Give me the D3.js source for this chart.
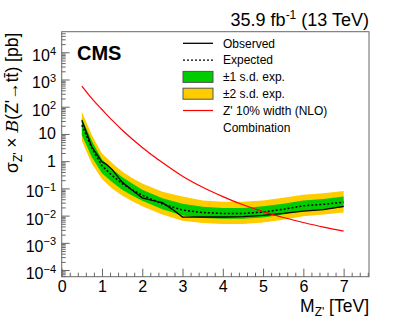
<!DOCTYPE html>
<html>
<head>
<meta charset="utf-8">
<script src="https://cdn.jsdelivr.net/npm/d3@7"></script>
<style>
  body { margin: 0; background: #fff; }
  svg { font-family: "Liberation Sans", Arial, sans-serif; }
</style>
</head>
<body>
<svg id="chart" width="411" height="326"></svg>
<script>
// masses in TeV
var massExp = [0.5, 0.75, 1, 1.25, 1.5, 1.75, 2, 2.5, 3, 3.5, 4, 4.5, 5, 5.5, 6, 6.5, 7];
var expected = [21, 3.0, 0.68, 0.3, 0.15, 0.09, 0.056, 0.027, 0.016, 0.013, 0.012, 0.012, 0.0135, 0.017, 0.023, 0.026, 0.031];
var sd1Low = [9, 1.4, 0.36, 0.17, 0.09, 0.055, 0.035, 0.017, 0.010, 0.0082, 0.0077, 0.0077, 0.0086, 0.011, 0.015, 0.017, 0.020];
var sd1High = [37, 5.5, 1.15, 0.52, 0.26, 0.15, 0.09, 0.043, 0.027, 0.021, 0.019, 0.019, 0.022, 0.027, 0.036, 0.041, 0.050];
var sd2Low = [5.5, 0.8, 0.22, 0.1, 0.055, 0.034, 0.022, 0.011, 0.0065, 0.0053, 0.0049, 0.0049, 0.0056, 0.0071, 0.0095, 0.011, 0.013];
var sd2High = [65, 9, 1.9, 0.85, 0.42, 0.24, 0.15, 0.075, 0.05, 0.036, 0.032, 0.032, 0.036, 0.045, 0.058, 0.066, 0.080];

var massObs = [0.5, 0.75, 1, 1.1, 1.25, 1.5, 1.75, 2, 2.25, 2.5, 2.75, 3, 3.5, 4, 4.5, 5, 5.5, 6, 6.5, 7];
var observed = [32, 3.3, 0.95, 0.78, 0.5, 0.17, 0.085, 0.045, 0.036, 0.03, 0.017, 0.0088, 0.0089, 0.0089, 0.0092, 0.0102, 0.012, 0.0147, 0.0165, 0.022];

var massTh = [0.5, 0.75, 1, 1.25, 1.5, 2, 2.5, 3, 3.5, 4, 4.5, 5, 5.5, 6, 6.5, 7];
var theory = [575, 200, 79, 32, 14, 3.2, 0.89, 0.28, 0.11, 0.05, 0.025, 0.014, 0.0085, 0.0056, 0.0038, 0.0027];

var xTicks = [0, 1, 2, 3, 4, 5, 6, 7];
var yDecades = [-4, -3, -2, -1, 0, 1, 2, 3, 4];

var svg = d3.select("#chart");
var padL = 61.7, padT = 31.7, padR = 369, padB = 276.7;

var x = d3.scaleLinear().domain([0, 7.63]).range([padL, padR]);
var y = d3.scaleLog().domain([5.7e-5, 5.7e4]).range([padB, padT]);

var green = "#00cc00", yellow = "#ffcc00";

function rows(ms, lo, hi) {
  return ms.map(function (m, i) { return { m: m, lo: lo[i], hi: hi[i] }; });
}
var band = d3.area()
  .x(function (d) { return x(d.m); })
  .y0(function (d) { return y(d.lo); })
  .y1(function (d) { return y(d.hi); });
var line = d3.line()
  .x(function (d) { return x(d[0]); })
  .y(function (d) { return y(d[1]); });

svg.append("path").datum(rows(massExp, sd2Low, sd2High)).attr("d", band).attr("fill", yellow);
svg.append("path").datum(rows(massExp, sd1Low, sd1High)).attr("d", band).attr("fill", green);
svg.append("path").datum(d3.zip(massExp, expected)).attr("d", line)
  .attr("fill", "none").attr("stroke", "#000").attr("stroke-width", 1.5).attr("stroke-dasharray", "2,2");
svg.append("path").datum(d3.zip(massObs, observed)).attr("d", line)
  .attr("fill", "none").attr("stroke", "#000").attr("stroke-width", 1.3);
svg.append("path").datum(d3.zip(massTh, theory)).attr("d", line.curve(d3.curveMonotoneX))
  .attr("fill", "none").attr("stroke", "#ff0000").attr("stroke-width", 1.2);

// frame
svg.append("rect").attr("x", padL).attr("y", padT).attr("width", padR - padL).attr("height", padB - padT)
  .attr("fill", "none").attr("stroke", "#666").attr("stroke-width", 1);

// x axis
var xMinor = d3.range(0, 7.61, 0.2).filter(function (v) { return Math.abs(v - Math.round(v)) > 0.01; });
var gx = svg.append("g").attr("transform", "translate(0," + padB + ")");
gx.call(d3.axisBottom(x).tickValues(xMinor).tickSize(-4).tickFormat(""));
var gx2 = svg.append("g").attr("transform", "translate(0," + padB + ")");
gx2.call(d3.axisBottom(x).tickValues(xTicks).tickSize(-8).tickPadding(4).tickFormat(d3.format("d")));
gx.select(".domain").remove();
gx2.select(".domain").remove();
gx2.attr("font-size", 16).attr("font-family", "Liberation Sans");
gx2.selectAll("text").attr("fill", "#000");

// y axis
var yMinor = [];
yDecades.concat([-5]).forEach(function (e) {
  for (var k = 2; k <= 9; k++) {
    var v = k * Math.pow(10, e);
    if (v >= 5.7e-5 && v <= 5.7e4) yMinor.push(v);
  }
});
var gy = svg.append("g").attr("transform", "translate(" + padL + ",0)");
gy.call(d3.axisLeft(y).tickValues(yMinor).tickSize(-4).tickFormat(""));
var gy2 = svg.append("g").attr("transform", "translate(" + padL + ",0)");
gy2.call(d3.axisLeft(y).tickValues(yDecades.map(function (e) { return Math.pow(10, e); })).tickSize(-8).tickFormat(""));
gy.select(".domain").remove();
gy2.select(".domain").remove();
svg.selectAll(".tick line").attr("stroke", "#666");

var ylab = svg.append("g").attr("font-size", 16).attr("fill", "#000");
yDecades.forEach(function (e) {
  var v = Math.pow(10, e), py = y(v);
  var t = ylab.append("text").attr("x", 56).attr("text-anchor", "end");
  if (e === 0 || e === 1) {
    t.attr("y", py + 5.5).text(e === 0 ? "1" : "10");
  } else {
    t.attr("y", py + 9);
    t.append("tspan").text("10");
    t.append("tspan").attr("font-size", 11).attr("dy", -6.5).text(e < 0 ? "\u2212" + (-e) : e);
  }
});

// titles
var xt = svg.append("text").attr("x", padR).attr("y", 312).attr("text-anchor", "end").attr("font-size", 17.5);
xt.append("tspan").text("M");
xt.append("tspan").attr("font-size", 12).attr("dy", 4).text("Z'");
xt.append("tspan").attr("dy", -4).text(" [TeV]");

var yt = svg.append("text").attr("transform", "translate(18," + (padT + 1) + ") rotate(-90)")
  .attr("text-anchor", "end").attr("font-size", 17.5);
yt.append("tspan").text("\u03c3");
yt.append("tspan").attr("font-size", 12).attr("dy", 4).text("Z'");
yt.append("tspan").attr("dy", -4).text(" \u00d7 ");
yt.append("tspan").attr("font-style", "italic").attr("font-family", "DejaVu Serif").text("B");
yt.append("tspan").text("(Z'\u2192tt\u0304) [pb]");

var lumi = svg.append("text").attr("x", padR).attr("y", 26).attr("text-anchor", "end").attr("font-size", 18);
lumi.append("tspan").text("35.9 fb");
lumi.append("tspan").attr("font-size", 12).attr("dy", -7).text("-1");
lumi.append("tspan").attr("dy", 7).text(" (13 TeV)");

svg.append("text").attr("x", 77).attr("y", 60).attr("font-size", 20).attr("font-weight", "bold").text("CMS");

// legend
var legend = [
  { label: "Observed", type: "line", dash: null },
  { label: "Expected", type: "line", dash: "2,2" },
  { label: "\u00b11 s.d. exp.", type: "box", color: green },
  { label: "\u00b12 s.d. exp.", type: "box", color: yellow },
  { label: "Z' 10% width (NLO)", type: "red" },
  { label: "Combination", type: "none" }
];
var lg = svg.append("g");
legend.forEach(function (d, i) {
  var cy = 43.3 + i * 16.8;
  if (d.type === "line" || d.type === "red") {
    lg.append("line").attr("x1", 183).attr("x2", 213).attr("y1", cy).attr("y2", cy)
      .attr("stroke", d.type === "red" ? "#ff0000" : "#000").attr("stroke-width", d.type === "red" ? 1.2 : 1.3)
      .attr("stroke-dasharray", d.dash);
  } else if (d.type === "box") {
    lg.append("rect").attr("x", 183).attr("y", cy - 5.5).attr("width", 30).attr("height", 11)
      .attr("fill", d.color).attr("stroke", "#555").attr("stroke-width", 1);
  }
  lg.append("text").attr("x", 223).attr("y", cy + 4.3).attr("font-size", 12).text(d.label);
});
</script>
</body>
</html>
